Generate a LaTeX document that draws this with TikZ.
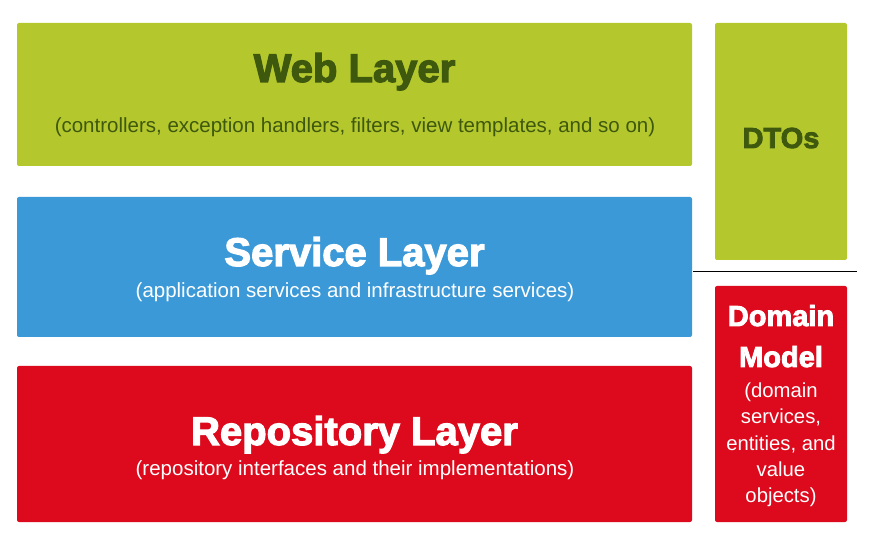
\documentclass[tikz,border=0pt]{standalone}
\usepackage{fontspec}
\setmainfont{Liberation Sans}
\newfontfamily\heavyfont[FakeBold=3]{Liberation Sans Bold}
\newfontfamily\condfont{Liberation Sans}
\definecolor{webgreen}{RGB}{180,200,45}
\definecolor{darkgreen}{RGB}{62,88,14}
\definecolor{svcblue}{RGB}{59,153,216}
\definecolor{repred}{RGB}{220,10,28}
\begin{document}
\begin{tikzpicture}[x=1pt,y=-1pt,
  layerbox/.style={rounded corners=2pt, draw=none, inner sep=0pt, outer sep=0pt},
  titletext/.style={anchor=base, inner sep=0pt, font=\heavyfont\fontsize{40}{42}\selectfont},
  subtext/.style={anchor=base, inner sep=0pt, font=\condfont\fontsize{20.5}{22}\selectfont},
  sidetitle/.style={anchor=base, inner sep=0pt, font=\heavyfont\fontsize{29}{31}\selectfont},
  sidetext/.style={anchor=base, inner sep=0pt, font=\fontsize{20.3}{22}\selectfont}]
\useasboundingbox (0,0) rectangle (870,534);
\fill[white] (0,0) rectangle (870,534);
% boxes
\path[layerbox, fill=webgreen] (17,23) rectangle (692,166);
\node[inner sep=0pt] (web) at (354.5,94.5) {};
\path[layerbox, fill=svcblue] (17,197) rectangle (692,337);
\node[inner sep=0pt] (svc) at (354.5,267) {};
\path[layerbox, fill=repred] (17,366) rectangle (692,522);
\node[inner sep=0pt] (rep) at (354.5,444) {};
\path[layerbox, fill=webgreen] (715,23) rectangle (847,260);
\node[inner sep=0pt] (dto) at (781,141.5) {};
\path[layerbox, fill=repred] (715,286) rectangle (847,522);
\node[inner sep=0pt] (dom) at (781,404) {};
% separator line
\coordinate (lineL) at (693,271.5);
\coordinate (lineR) at (857,271.5);
\draw[line width=1.2pt, black] (lineL) -- (lineR);
% texts
\node[titletext, text=darkgreen] (webt) at (354.5,82) {Web Layer};
\node[subtext, text=darkgreen] (webs) at (355,132.5) {(controllers, exception handlers, filters, view templates, and so on)};
\node[titletext, text=white] (svct) at (354.5,266) {Service Layer};
\node[subtext, text=white] (svcs) at (355,297.5) {(application services and infrastructure services)};
\node[titletext, text=white] (rept) at (354.5,445) {Repository Layer};
\node[subtext, text=white] (reps) at (355,475.5) {(repository interfaces and their implementations)};
\node[sidetitle, text=darkgreen] (dtot) at (781,148) {DTOs};
\node[sidetitle, text=white] (domt1) at (781,326) {Domain};
\node[sidetitle, text=white] (domt2) at (781,367) {Model};
\node[sidetext, text=white] (doms1) at (781,397) {(domain};
\node[sidetext, text=white] (doms2) at (781,424) {services,};
\node[sidetext, text=white] (doms3) at (781,450) {entities, and};
\node[sidetext, text=white] (doms4) at (781,476) {value};
\node[sidetext, text=white] (doms5) at (781,502) {objects)};
\end{tikzpicture}
\end{document}
